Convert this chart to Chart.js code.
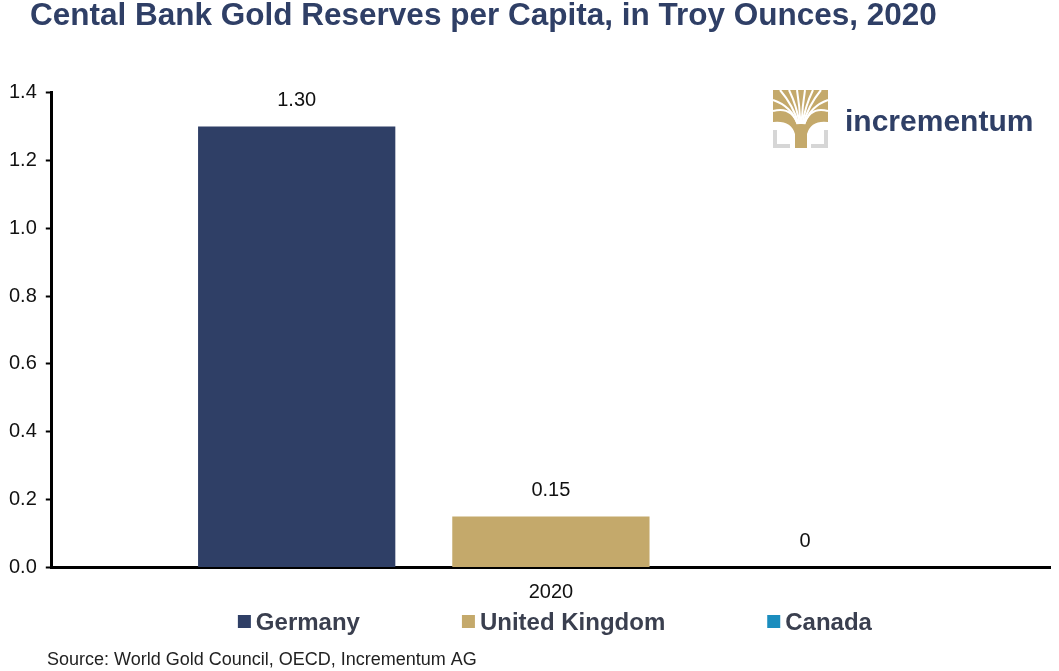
<!DOCTYPE html>
<html>
<head>
<meta charset="utf-8">
<script src="https://cdn.jsdelivr.net/npm/chart.js@4.4.0/dist/chart.umd.min.js"></script>
<style>
  body { margin: 0; background: #fff; }
  #wrap { width: 1059px; height: 671px; position: relative; }
</style>
</head>
<body>
<div id="wrap"><canvas id="myChart"></canvas></div>
<script>
'use strict';

// data
const categories = ['2020'];
const seriesNames = ['Germany', 'United Kingdom', 'Canada'];
const germany = [1.30];
const unitedKingdom = [0.15];
const canada = [0];
const valueLabels = [['1.30'], ['0.15'], ['0']];
const yTicks = [0, 0.2, 0.4, 0.6, 0.8, 1.0, 1.2, 1.4];

const titleText = 'Cental Bank Gold Reserves per Capita, in Troy Ounces, 2020';
const sourceText = 'Source: World Gold Council, OECD, Incrementum AG';

const navy = '#2f3f66';
const gold = '#c4a96b';
const blue = '#1b8dbe';
const fontFamily = '"Liberation Sans", Arial, sans-serif';

// move title and source a bit to the right like in the original
const blockShift = {
  id: 'blockShift',
  afterLayout(chart) {
    chart.boxes.forEach(function(b) {
      if (!b.options) return;
      if (b.options.text === titleText) b.left = 30;
      if (b.options.text === sourceText) b.left = 47;
    });
  }
};

// numbers above each bar
const barValues = {
  id: 'barValues',
  afterDatasetsDraw(chart) {
    const ctx = chart.ctx;
    ctx.save();
    ctx.font = '20px ' + fontFamily;
    ctx.fillStyle = '#111';
    ctx.textAlign = 'center';
    ctx.textBaseline = 'middle';
    chart.data.datasets.forEach(function(ds, i) {
      chart.getDatasetMeta(i).data.forEach(function(bar, j) {
        ctx.fillText(valueLabels[i][j], bar.x, bar.y - 26);
      });
    });
    ctx.restore();
  }
};

// legend with wide gaps (built in legend pads vertically too)
const wideLegend = {
  id: 'wideLegend',
  afterDraw(chart) {
    const ctx = chart.ctx;
    const box = 13, gap = 5, spacing = 102, y = 622;
    ctx.save();
    ctx.font = 'bold 24px ' + fontFamily;
    ctx.textBaseline = 'middle';
    const widths = chart.data.datasets.map(function(ds) {
      return box + gap + ctx.measureText(ds.label).width;
    });
    const total = widths.reduce(function(a, b) { return a + b; }, 0) + spacing * (widths.length - 1);
    let x = (chart.chartArea.left + chart.chartArea.right) / 2 + 4 - total / 2;
    chart.data.datasets.forEach(function(ds, i) {
      ctx.fillStyle = ds.backgroundColor;
      ctx.fillRect(x, y - 7, box, box);
      ctx.fillStyle = '#3a3f4f';
      ctx.fillText(ds.label, x + box + gap, y + 1);
      x += widths[i] + spacing;
    });
    ctx.restore();
  }
};

// rough version of the incrementum logo
const logo = {
  id: 'logo',
  afterDraw(chart) {
    const ctx = chart.ctx;
    ctx.save();
    // grey brackets
    ctx.fillStyle = '#d6d6d6';
    ctx.fillRect(773, 130, 4, 18);
    ctx.fillRect(773, 144, 17, 4);
    ctx.fillRect(824, 130, 4, 18);
    ctx.fillRect(811, 144, 17, 4);
    // crown and trunk
    ctx.fillStyle = gold;
    ctx.beginPath();
    ctx.moveTo(773, 90);
    ctx.lineTo(828, 90);
    ctx.lineTo(828, 122);
    ctx.quadraticCurveTo(811, 120, 807, 134);
    ctx.lineTo(807, 148);
    ctx.lineTo(795, 148);
    ctx.lineTo(795, 134);
    ctx.quadraticCurveTo(791, 120, 773, 122);
    ctx.closePath();
    ctx.fill();
    // white gaps between the branches
    ctx.strokeStyle = '#fff';
    ctx.lineWidth = 2;
    const ends = [[773, 100], [773, 111], [780, 90], [789, 90], [797, 90], [805, 90], [813, 90], [821, 90], [828, 100], [828, 111]];
    ends.forEach(function(e) {
      ctx.beginPath();
      ctx.moveTo(801 + (e[0] - 801) * 0.12, 124);
      ctx.quadraticCurveTo(801 + (e[0] - 801) * 0.35, 106, e[0], e[1]);
      ctx.stroke();
    });
    ctx.fillStyle = navy;
    ctx.font = 'bold 30px ' + fontFamily;
    ctx.textBaseline = 'alphabetic';
    ctx.fillText('incrementum', 845, 131);
    ctx.restore();
  }
};

new Chart(document.getElementById('myChart'), {
  type: 'bar',
  data: {
    labels: categories,
    datasets: [{
      label: seriesNames[0],
      data: germany,
      backgroundColor: navy
    }, {
      label: seriesNames[1],
      data: unitedKingdom,
      backgroundColor: gold
    }, {
      label: seriesNames[2],
      data: canada,
      backgroundColor: blue
    }]
  },
  options: {
    responsive: true,
    maintainAspectRatio: false,
    animation: false,
    layout: { padding: { left: 0, right: 9, top: 0, bottom: 0 } },
    datasets: {
      bar: { categoryPercentage: 0.764, barPercentage: 0.776 }
    },
    plugins: {
      title: {
        display: true,
        text: titleText,
        align: 'start',
        color: navy,
        font: { family: fontFamily, size: 31.5, weight: 'bold', lineHeight: 1.0 },
        padding: { top: 1, bottom: 60 }
      },
      subtitle: {
        display: true,
        position: 'bottom',
        text: sourceText,
        align: 'start',
        color: '#222',
        font: { family: fontFamily, size: 18 },
        padding: { top: 40, bottom: 0 }
      },
      legend: { display: false },
      tooltip: { enabled: false }
    },
    scales: {
      x: {
        grid: { display: false },
        border: { color: '#000', width: 3 },
        ticks: {
          color: '#111',
          padding: 5,
          font: { family: fontFamily, size: 20 }
        }
      },
      y: {
        min: 0,
        max: 1.4,
        afterBuildTicks(axis) {
          axis.ticks = yTicks.map(function(v) { return { value: v }; });
        },
        grid: {
          drawOnChartArea: false,
          drawTicks: true,
          tickLength: 6,
          tickColor: '#000',
          tickWidth: 2
        },
        border: { color: '#000', width: 3 },
        ticks: {
          color: '#111',
          padding: 9,
          font: { family: fontFamily, size: 20 },
          callback: function(v) { return Number(v).toFixed(1); }
        }
      }
    }
  },
  plugins: [blockShift, barValues, wideLegend, logo]
});
</script>
</body>
</html>
